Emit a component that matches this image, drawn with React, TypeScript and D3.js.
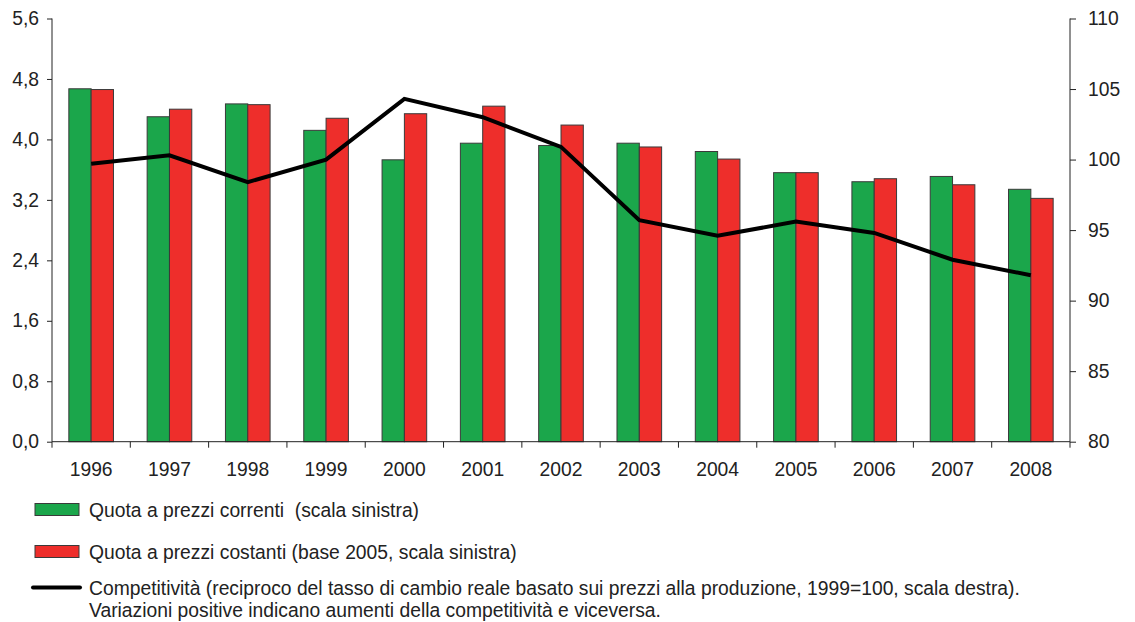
import { useRef, useEffect } from "react";
import * as d3 from "d3";

const YEARS = ["1996", "1997", "1998", "1999", "2000", "2001", "2002", "2003", "2004", "2005", "2006", "2007", "2008"];
const CURRENT = [4.67, 4.3, 4.47, 4.12, 3.73, 3.95, 3.92, 3.95, 3.84, 3.56, 3.44, 3.51, 3.34];
const CONSTANT = [4.66, 4.4, 4.46, 4.28, 4.34, 4.44, 4.19, 3.9, 3.74, 3.56, 3.48, 3.4, 3.22];
const COMPETITIVENESS = [99.7, 100.3, 98.4, 100.0, 104.3, 103.0, 100.9, 95.7, 94.6, 95.6, 94.8, 92.9, 91.8];
const LEFT_TICKS = [0, 0.8, 1.6, 2.4, 3.2, 4.0, 4.8, 5.6];
const RIGHT_TICKS = [80, 85, 90, 95, 100, 105, 110];

const GREEN = "#1ba64b";
const RED = "#ee2e2b";
const BAR_STROKE = "#3a3a3a";
const INK = "#222";
const FONT = "'Liberation Sans', Arial, sans-serif";
const FONT_SIZE = 19.3;

const WIDTH = 1135;
const HEIGHT = 622;
const LEFT = 52;
const RIGHT = 1070;
const TOP = 18.5;
const BOTTOM = 441.7;

export default function App() {
  const svgRef = useRef<SVGSVGElement>(null);

  useEffect(() => {
    if (!svgRef.current) return;
    const svg = d3.select(svgRef.current);
    svg.selectAll("*").remove();

    const x = d3.scaleBand<string>().domain(YEARS).range([LEFT, RIGHT]).padding(0);
    const yLeft = d3.scaleLinear().domain([0, 5.6]).range([BOTTOM, TOP]);
    const yRight = d3.scaleLinear().domain([80, 110]).range([BOTTOM, TOP]);
    const barW = x.step() * 0.285;

    // bars
    const g = svg.append("g");
    YEARS.forEach((yr, i) => {
      const cx = x(yr)! + x.bandwidth() / 2;
      g.append("rect")
        .attr("x", cx - barW)
        .attr("y", yLeft(CURRENT[i]))
        .attr("width", barW)
        .attr("height", yLeft(0) - yLeft(CURRENT[i]))
        .attr("fill", GREEN)
        .attr("stroke", BAR_STROKE)
        .attr("stroke-width", 1);
      g.append("rect")
        .attr("x", cx)
        .attr("y", yLeft(CONSTANT[i]))
        .attr("width", barW)
        .attr("height", yLeft(0) - yLeft(CONSTANT[i]))
        .attr("fill", RED)
        .attr("stroke", BAR_STROKE)
        .attr("stroke-width", 1);
    });

    // competitiveness line
    const line = d3
      .line<number>()
      .x((_, i) => x(YEARS[i])! + x.bandwidth() / 2)
      .y((d) => yRight(d));
    svg.append("path")
      .attr("d", line(COMPETITIVENESS) ?? "")
      .attr("fill", "none")
      .attr("stroke", "#000")
      .attr("stroke-width", 4);

    // left axis
    const left = svg.append("g").attr("transform", `translate(${LEFT},0)`)
      .call(
        d3.axisLeft(yLeft)
          .tickValues(LEFT_TICKS)
          .tickSize(5)
          .tickPadding(8)
          .tickFormat((d) => d3.format(".1f")(d as number).replace(".", ","))
      );

    // right axis
    const right = svg.append("g").attr("transform", `translate(${RIGHT},0)`)
      .call(d3.axisRight(yRight).tickValues(RIGHT_TICKS).tickSize(6).tickPadding(12));

    // bottom axis: ticks at band boundaries
    const bottom = svg.append("g").attr("transform", `translate(0,${BOTTOM})`);
    bottom.append("line")
      .attr("x1", LEFT).attr("x2", RIGHT)
      .attr("stroke", INK);
    const bounds = YEARS.map((yr) => x(yr)!).concat([RIGHT]);
    bottom.selectAll("line.tk")
      .data(bounds)
      .join("line")
      .attr("class", "tk")
      .attr("x1", (d) => d).attr("x2", (d) => d)
      .attr("y1", 0).attr("y2", 6)
      .attr("stroke", INK);
    bottom.selectAll("text")
      .data(YEARS)
      .join("text")
      .attr("x", (d) => x(d)! + x.bandwidth() / 2)
      .attr("y", 34)
      .attr("text-anchor", "middle")
      .text((d) => d);

    [left, right].forEach((ax) => {
      ax.select(".domain").attr("stroke", INK).attr("d", `M0,${TOP}V${BOTTOM}`);
      ax.selectAll(".tick line").attr("stroke", INK);
    });

    svg.selectAll("text")
      .attr("font-family", FONT)
      .attr("font-size", FONT_SIZE)
      .attr("fill", INK);

    // legend
    const lg = svg.append("g").attr("font-family", FONT).attr("font-size", FONT_SIZE).attr("fill", INK);
    lg.append("rect").attr("x", 35).attr("y", 503.5).attr("width", 44).attr("height", 12)
      .attr("fill", GREEN).attr("stroke", BAR_STROKE);
    lg.append("text").attr("x", 89).attr("y", 517).text("Quota a prezzi correnti  (scala sinistra)")
      .style("white-space", "pre");
    lg.append("rect").attr("x", 35).attr("y", 545.5).attr("width", 44).attr("height", 12)
      .attr("fill", RED).attr("stroke", BAR_STROKE);
    lg.append("text").attr("x", 89).attr("y", 559).text("Quota a prezzi costanti (base 2005, scala sinistra)");
    lg.append("line").attr("x1", 33).attr("x2", 80).attr("y1", 587.5).attr("y2", 587.5)
      .attr("stroke", "#000").attr("stroke-width", 4).attr("stroke-linecap", "round");
    lg.append("text").attr("x", 89).attr("y", 595)
      .text("Competitività (reciproco del tasso di cambio reale basato sui prezzi alla produzione, 1999=100, scala destra).");
    lg.append("text").attr("x", 89).attr("y", 617)
      .text("Variazioni positive indicano aumenti della competitività e viceversa.");
  }, []);

  return (
    <svg
      ref={svgRef}
      width={WIDTH}
      height={HEIGHT}
      style={{ position: "absolute", left: 0, top: 0, background: "#fff" }}
    />
  );
}
